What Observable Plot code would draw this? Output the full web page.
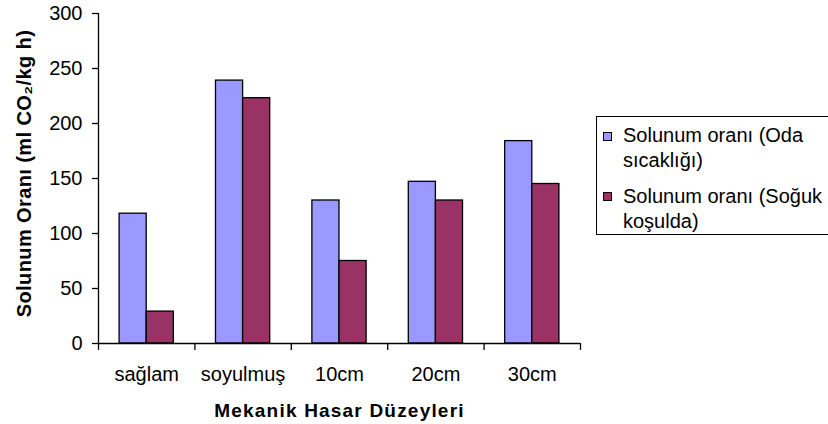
<!DOCTYPE html>
<html>
<head>
<meta charset="utf-8">
<script src="https://cdn.jsdelivr.net/npm/d3@7"></script>
<script src="https://cdn.jsdelivr.net/npm/@observablehq/plot@0.6"></script>
<style>
  html, body { margin: 0; padding: 0; background: #fff; overflow: hidden; }
  #chart { position: relative; width: 828px; height: 424px; font-family: "Liberation Sans", Arial, sans-serif; }
  #chart svg { display: block; }
  .legend { position: absolute; left: 596px; top: 116px; width: 250px; height: 119px;
            border: 1px solid #000; background: #fff; box-sizing: border-box; }
  .legend .item { position: absolute; left: 26px; width: 206px; font-size: 20px; line-height: 25px; color: #000; }
  .legend .sw { position: absolute; left: 6px; width: 9px; height: 9px; box-sizing: border-box; border: 1px solid #000; }
</style>
</head>
<body>
<div id="chart"></div>
<script>
// Mechanical damage levels and respiration rates (ml CO2/kg h)
const categories = ["sağlam", "soyulmuş", "10cm", "20cm", "30cm"];
const seriesNames = ["Solunum oranı (Oda sıcaklığı)", "Solunum oranı (Soğuk koşulda)"];
const odaValues = [118, 239, 130, 147, 184];
const sogukValues = [29, 223, 75, 130, 145];
const seriesColors = ["#9999FF", "#993366"];
const yTicks = [0, 50, 100, 150, 200, 250, 300];
const xTitle = "Mekanik Hasar Düzeyleri";
const yTitle = "Solunum Oranı (ml CO₂/kg h)";

// one row per bar
const rows = categories.flatMap((c, i) => [
  {cat: c, i, s: 0, value: odaValues[i]},
  {cat: c, i, s: 1, value: sogukValues[i]}
]);

// each category occupies one unit on x; the bar pair sits centred in it
const barW = 27 / 96;
const groupStart = (1 - 2 * barW) / 2;

const plot = Plot.plot({
  width: 828,
  height: 424,
  marginLeft: 98,
  marginRight: 248,
  marginTop: 13,
  marginBottom: 81,
  style: {fontFamily: "Liberation Sans, Arial, sans-serif", fontSize: "20px", color: "#000", background: "transparent"},
  x: {domain: [0, categories.length], axis: null},
  y: {domain: [0, 300], axis: null},
  color: {domain: seriesNames, range: seriesColors},
  marks: [
    Plot.rect(rows, {
      x1: d => d.i + groupStart + d.s * barW,
      x2: d => d.i + groupStart + (d.s + 1) * barW,
      y1: 0,
      y2: "value",
      fill: d => seriesNames[d.s],
      stroke: "#000",
      strokeWidth: 1.3
    }),
    Plot.ruleX([0], {stroke: "#000", strokeWidth: 1.3}),
    Plot.ruleY([0], {stroke: "#000", strokeWidth: 1.3}),
    Plot.axisY({ticks: yTicks, tickSize: 6, tickPadding: 10, fontSize: 20, label: null, strokeWidth: 1.3}),
    Plot.axisX({ticks: d3.range(0, categories.length + 1), tickSize: 7, tickFormat: () => "", label: null, strokeWidth: 1.3}),
    Plot.text(categories, {x: (d, i) => i + 0.5, y: 0, dy: 31, fontSize: 20, fill: "#000"}),
    Plot.text([xTitle], {x: categories.length / 2, y: 0, dy: 67, fontSize: 19, fontWeight: "bold", fill: "#000"}),
    Plot.text([yTitle], {x: 0, y: 150, dx: -74, dy: -5, rotate: -90, fontSize: 20, fontWeight: "bold", fill: "#000"})
  ]
});

// the axis titles are set with a little extra tracking
d3.select(plot).selectAll("text")
  .filter(function() { return this.textContent === xTitle; })
  .style("letter-spacing", "1.2px");
d3.select(plot).selectAll("text")
  .filter(function() { return this.textContent === yTitle; })
  .style("letter-spacing", "0.4px");

const chart = document.getElementById("chart");
chart.appendChild(plot);

// legend box on the right
const legend = document.createElement("div");
legend.className = "legend";
const itemTops = [6, 67];
const swatchTops = [15, 75];
seriesNames.forEach((name, k) => {
  const sw = document.createElement("div");
  sw.className = "sw";
  sw.style.top = swatchTops[k] + "px";
  sw.style.background = seriesColors[k];
  legend.appendChild(sw);
  const item = document.createElement("div");
  item.className = "item";
  item.style.top = itemTops[k] + "px";
  item.textContent = name;
  legend.appendChild(item);
});
chart.appendChild(legend);
</script>
</body>
</html>
